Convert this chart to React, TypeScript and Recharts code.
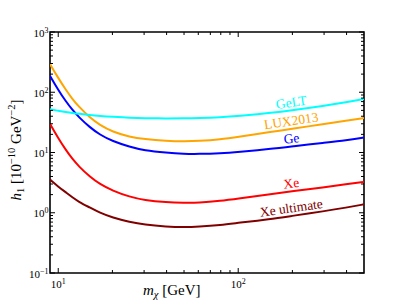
import { LineChart, Line, XAxis, YAxis, ReferenceDot, ReferenceArea } from 'recharts'

// WIMP mass grid [GeV] and the bound curves h1 [1e-10 GeV^-2]
const MASS = [9, 10, 11, 12, 13, 15, 17, 20, 25, 30, 40, 50, 60, 80, 100, 150, 200, 300, 400, 500]
const GELT = [52.1, 49.2, 47, 45.2, 43.9, 41.9, 40.5, 39.1, 37.8, 37.1, 36.7, 36.8, 37.2, 38.5, 40.4, 45.2, 50.1, 59.6, 68.4, 77.3]
const LUX2013 = [293, 172.5, 110.6, 76.9, 57.8, 37.9, 28.6, 22.1, 18.1, 16.7, 15.6, 15.3, 15.5, 16.5, 18.2, 21.8, 24.8, 29.7, 33.8, 37.4]
const GE = [187.5, 109.4, 71, 50.7, 38.8, 26.1, 19.8, 15.4, 12.4, 10.8, 9.9, 9.5, 9.45, 9.7, 10.2, 11.4, 12.6, 14.5, 16, 17.7]
const XE = [30, 17.3, 11.1, 7.8, 5.9, 3.95, 3, 2.33, 1.83, 1.62, 1.49, 1.46, 1.46, 1.57, 1.72, 2.03, 2.27, 2.65, 2.98, 3.25]
const XE_ULT = [3.55, 2.71, 2.19, 1.8, 1.52, 1.22, 1, 0.83, 0.7, 0.634, 0.589, 0.575, 0.587, 0.625, 0.68, 0.78, 0.889, 1.06, 1.22, 1.38]

const X_TICKS = [10, 20, 30, 40, 50, 60, 70, 80, 90, 100, 200, 300, 400]
const Y_TICKS = [
  0.1, 0.2, 0.3, 0.4, 0.5, 0.6, 0.7, 0.8, 0.9,
  1, 2, 3, 4, 5, 6, 7, 8, 9,
  10, 20, 30, 40, 50, 60, 70, 80, 90,
  100, 200, 300, 400, 500, 600, 700, 800, 900,
  1000,
]

const LABEL_AT = 200

const FONT = '"Liberation Serif", "DejaVu Serif", serif'

const data = MASS.map((m, i) => ({
  m,
  gelt: GELT[i],
  lux: LUX2013[i],
  ge: GE[i],
  xe: XE[i],
  xeu: XE_ULT[i],
}))

const SERIES = [
  { key: 'ge', name: 'Ge', values: GE, color: '#0000ff', angle: -6 },
  { key: 'lux', name: 'LUX2013', values: LUX2013, color: '#ffa500', angle: -8.5 },
  { key: 'gelt', name: 'GeLT', values: GELT, color: '#00ffff', angle: -8 },
  { key: 'xe', name: 'Xe', values: XE, color: '#ff0000', angle: -7.5 },
  { key: 'xeu', name: 'Xe ultimate', values: XE_ULT, color: '#800000', angle: -8 },
]

const isMajor = (v: number) => {
  const l = Math.log10(v)
  return Math.abs(l - Math.round(l)) < 1e-6
}

const expText = (v: number) => {
  const e = Math.round(Math.log10(v))
  return e < 0 ? '\u2212' + -e : String(e)
}

// tick marks are drawn as thin filled rects, pointing into the plot
function BottomTick({ x, y, payload }: any) {
  const major = isMajor(payload.value)
  const len = major ? 5 : 3
  return (
    <g>
      <rect x={x - 0.5} y={y - len} width={1} height={len} fill="#000" />
      {major && (
        <text x={x} y={y + 15} textAnchor="middle" fontFamily={FONT} fontSize={11} fill="#000">
          10<tspan dy={-4} fontSize={8}>{expText(payload.value)}</tspan>
        </text>
      )}
    </g>
  )
}

function TopTick({ x, y, payload }: any) {
  const len = isMajor(payload.value) ? 5 : 3
  return <rect x={x - 0.5} y={y} width={1} height={len} fill="#000" />
}

function LeftTick({ x, y, payload }: any) {
  const major = isMajor(payload.value)
  const len = major ? 5 : 3
  return (
    <g>
      <rect x={x} y={y - 0.5} width={len} height={1} fill="#000" />
      {major && (
        <text x={x - 1.5} y={y + 4.7} textAnchor="end" fontFamily={FONT} fontSize={11} fill="#000">
          10<tspan dy={-4} fontSize={8}>{expText(payload.value)}</tspan>
        </text>
      )}
    </g>
  )
}

function RightTick({ x, y, payload }: any) {
  const len = isMajor(payload.value) ? 5 : 3
  return <rect x={x - len} y={y - 0.5} width={len} height={1} fill="#000" />
}

const curveLabel = (text: string, color: string, angle: number) => (p: any) => (
  <text
    x={p.cx}
    y={p.cy - 3.5}
    textAnchor="middle"
    fontFamily={FONT}
    fontSize={13.5}
    fill={color}
    transform={`rotate(${angle}, ${p.cx}, ${p.cy})`}
  >
    {text}
  </text>
)

const xCommon = {
  dataKey: 'm',
  type: 'number' as const,
  scale: 'log' as const,
  domain: [9, 500],
  allowDataOverflow: true,
  ticks: X_TICKS,
  interval: 0 as const,
  tickSize: 0,
  tickMargin: 0,
  tickLine: false,
  axisLine: false,
}
const yCommon = {
  type: 'number' as const,
  scale: 'log' as const,
  domain: [0.1, 1000],
  allowDataOverflow: true,
  ticks: Y_TICKS,
  interval: 0 as const,
  tickSize: 0,
  tickMargin: 0,
  tickLine: false,
  axisLine: false,
}

export default function App() {
  return (
    <div style={{ position: 'absolute', left: 0, top: 0, width: 405, height: 304, background: '#fff' }}>
      <LineChart width={405} height={304} data={data} margin={{ top: 31, right: 40, bottom: 0, left: 0 }}>
        <XAxis {...xCommon} tick={<BottomTick />} height={31} />
        <XAxis {...xCommon} xAxisId="top" orientation="top" tick={<TopTick />} height={1} />
        <YAxis {...yCommon} tick={<LeftTick />} width={50} />
        <YAxis {...yCommon} yAxisId="right" orientation="right" tick={<RightTick />} width={1} />
        {SERIES.map((s) => (
          <Line
            key={s.key}
            dataKey={s.key}
            type="basis"
            stroke={s.color}
            strokeWidth={2}
            dot={false}
            activeDot={false}
            isAnimationActive={false}
          />
        ))}
        <ReferenceArea x1={9} x2={500} y1={0.1} y2={1000} fill="none" stroke="#000" strokeWidth={1.6} ifOverflow="visible" />
        {SERIES.map((s) => (
          <ReferenceDot
            key={'lbl-' + s.key}
            x={LABEL_AT}
            y={s.values[MASS.indexOf(LABEL_AT)]}
            r={0}
            ifOverflow="visible"
            shape={curveLabel(s.name, s.color, s.angle)}
          />
        ))}
      </LineChart>
      <svg width={405} height={304} style={{ position: 'absolute', left: 0, top: 0, pointerEvents: 'none' }}>
        <text x={143} y={295} fontFamily={FONT} fontSize={15} fill="#000">
          <tspan fontStyle="italic">m</tspan>
          <tspan dy={3} fontSize={10.5} fontStyle="italic">χ</tspan>
          <tspan dy={-3}> [GeV]</tspan>
        </text>
        <text
          x={21}
          y={150}
          textAnchor="middle"
          fontFamily={FONT}
          fontSize={15}
          fill="#000"
          transform="rotate(-90, 21, 150)"
        >
          <tspan fontStyle="italic">h</tspan>
          <tspan dy={3} fontSize={10.5}>1</tspan>
          <tspan dy={-3}> [10</tspan>
          <tspan dy={-6} fontSize={10.5}>−10</tspan>
          <tspan dy={6}> GeV</tspan>
          <tspan dy={-6} fontSize={10.5}>−2</tspan>
          <tspan dy={6}>]</tspan>
        </text>
      </svg>
    </div>
  )
}
